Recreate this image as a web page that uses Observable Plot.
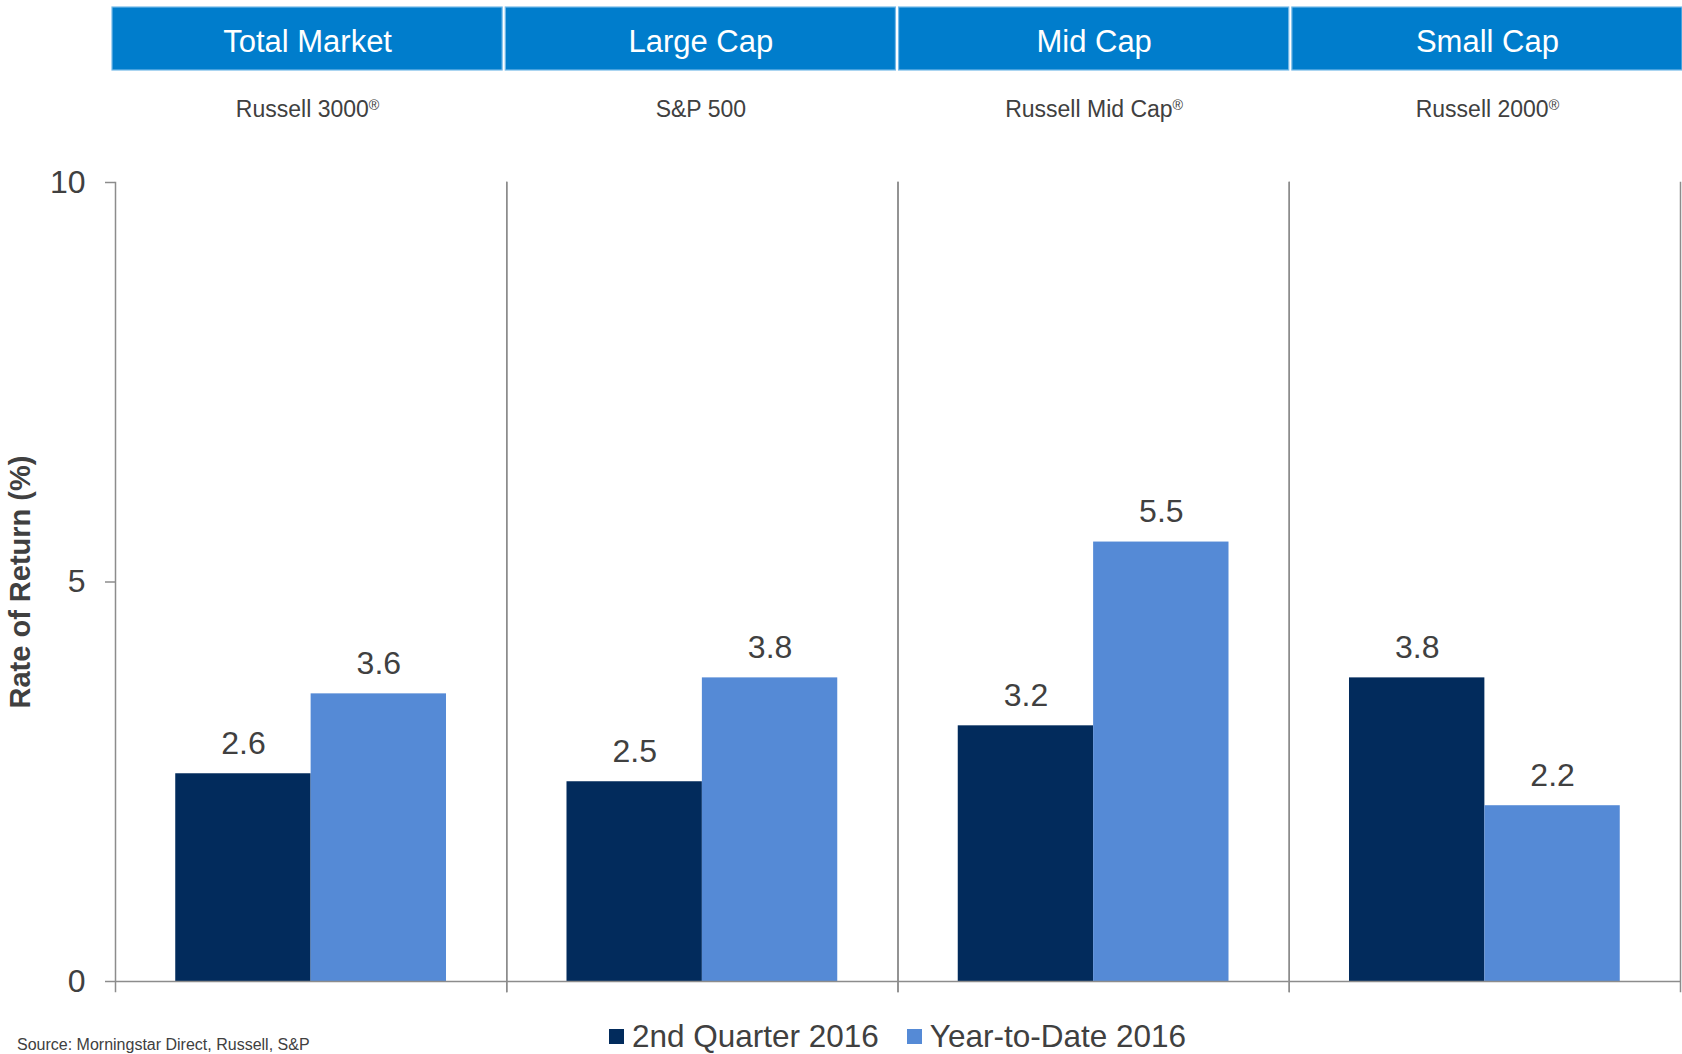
<!DOCTYPE html>
<html>
<head>
<meta charset="utf-8">
<script src="https://cdn.jsdelivr.net/npm/d3@7"></script>
<script src="https://cdn.jsdelivr.net/npm/@observablehq/plot@0.6"></script>
<style>
  html, body { margin: 0; padding: 0; background: #fff; overflow: hidden; width: 1682px; height: 1054px; }
  body { font-family: "Liberation Sans", Arial, sans-serif; color: #404040; }
  #legend { width: 1682px; height: 52px; box-sizing: border-box; padding-left: 115px; padding-right: 2px;
            display: flex; justify-content: center; align-items: center; font-size: 31.5px; color: #404040; }
  #legend .item { display: flex; align-items: center; margin: 0 14px; }
  #legend .sw { width: 15px; height: 15px; margin-right: 8px; }
  #caption { margin-top: -25px; padding-left: 17px; font-size: 16px; line-height: 16px; color: #404040; }
</style>
</head>
<body>
<div id="header"></div>
<div id="chart"></div>
<div id="legend"></div>
<div id="caption">Source: Morningstar Direct, Russell, S&amp;P</div>
<script>
// ---- data ----
const categories = ["Total Market", "Large Cap", "Mid Cap", "Small Cap"];
const indexNames = ["Russell 3000®", "S&P 500", "Russell Mid Cap®", "Russell 2000®"];
const seriesNames = ["2nd Quarter 2016", "Year-to-Date 2016"];
const q2Values = [2.6, 2.5, 3.2, 3.8];
const ytdValues = [3.6, 3.8, 5.5, 2.2];
const yTicks = [0, 5, 10];
const seriesColors = ["#022b5c", "#558ad6"];

const data = categories.flatMap((c, i) => [
  {category: c, series: seriesNames[0], value: q2Values[i]},
  {category: c, series: seriesNames[1], value: ytdValues[i]}
]);

const font = "'Liberation Sans', Arial, sans-serif";
const gray = "#8c8c8c";

// ---- header band ----
const header = Plot.plot({
  width: 1682, height: 140,
  marginTop: 7, marginBottom: 70, marginLeft: 112, marginRight: 0,
  x: {domain: categories, paddingInner: 0.008, paddingOuter: 0, round: false, axis: null},
  style: {fontFamily: font, background: "transparent"},
  marks: [
    Plot.cell(categories, {x: d => d, fill: "#007dcc", stroke: "#74b9e8", strokeWidth: 1.2}),
    Plot.text(categories, {x: d => d, text: d => d, fill: "white", fontSize: 31, dy: 3}),
    Plot.text(categories, {x: d => d, text: (d, i) => indexNames[i], frameAnchor: "bottom", dy: 46, fill: "#404040", fontSize: 23})
  ]
});
d3.select(header).selectAll("text").each(function() {
  const t = this.textContent;
  if (t.includes("®")) {
    const parts = t.split("®");
    this.textContent = "";
    const s = d3.select(this);
    s.append("tspan").text(parts[0]);
    s.append("tspan").attr("dy", "-0.45em").attr("font-size", "0.62em").text("®");
  }
});
document.getElementById("header").appendChild(header);

// ---- main chart ----
const chart = Plot.plot({
  width: 1682, height: 870,
  marginTop: 42, marginBottom: 29, marginLeft: 115, marginRight: 2,
  fx: {domain: categories, padding: 0, round: false, axis: null},
  x: {domain: seriesNames, paddingInner: 0, paddingOuter: 0.445, round: false, axis: null},
  y: {domain: [0, 10]},
  color: {domain: seriesNames, range: seriesColors},
  style: {fontFamily: font, color: "#404040", background: "transparent"},
  marks: [
    Plot.barY(data, {fx: "category", x: "series", y: "value", fill: "series", inset: 0}),
    Plot.text(data, {fx: "category", x: "series", y: "value", text: d => d.value.toFixed(1),
                     dy: -30, fontSize: 32, fill: "#404040"}),
    Plot.ruleY([0], {stroke: gray, strokeWidth: 1.5}),
    Plot.frame({anchor: "left", stroke: gray, strokeWidth: 1.5, insetBottom: -10}),
    Plot.frame({anchor: "right", stroke: gray, strokeWidth: 1.5, insetBottom: -10}),
    Plot.axisY({ticks: yTicks, tickSize: 10, tickPadding: 20, fontSize: 32, stroke: gray, strokeWidth: 1.5,
                fill: "#404040", label: null}),
    Plot.axisY({ticks: [], tickSize: 0, label: "Rate of Return (%)", labelArrow: "none", labelAnchor: "center",
                labelOffset: 106, fontSize: 29, fontWeight: "bold", fill: "#404040"})
  ]
});
// strip any label arrow
d3.select(chart).selectAll("text").each(function() {
  if (this.textContent.includes("↑")) this.textContent = this.textContent.replace(/\s*↑\s*/g, "");
});
document.getElementById("chart").appendChild(chart);

// ---- legend ----
const legend = document.getElementById("legend");
seriesNames.forEach((s, i) => {
  const item = document.createElement("div");
  item.className = "item";
  const sw = document.createElement("div");
  sw.className = "sw";
  sw.style.background = seriesColors[i];
  const lab = document.createElement("span");
  lab.textContent = s;
  item.appendChild(sw);
  item.appendChild(lab);
  legend.appendChild(item);
});
</script>
</body>
</html>
